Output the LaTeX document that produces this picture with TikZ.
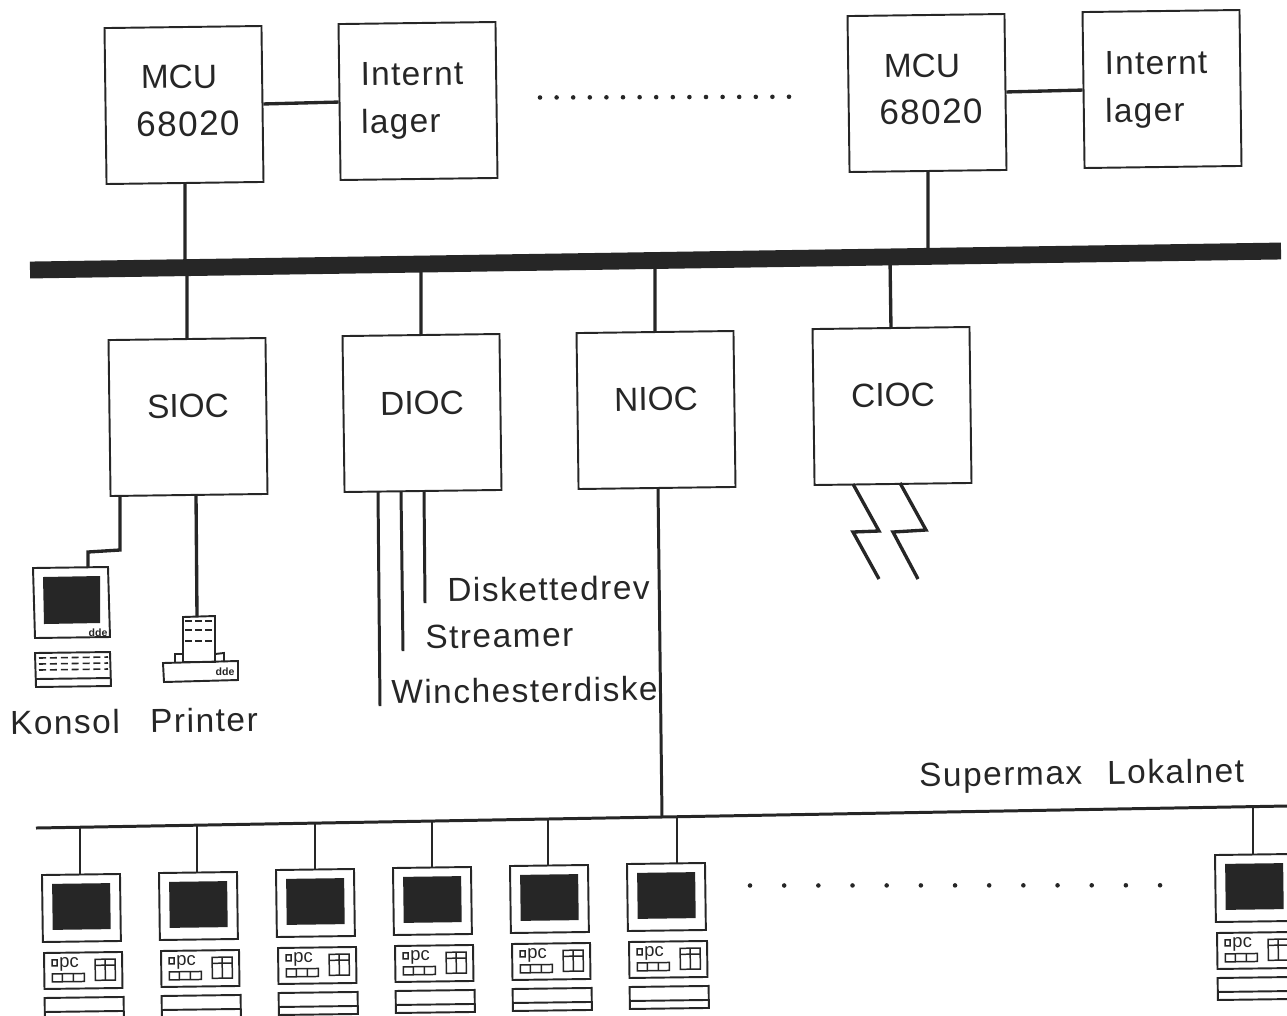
\documentclass[tikz,border=0pt]{standalone}
\usepackage{fontspec}
\setmainfont{Liberation Sans}
\newfontfamily\spacedf[LetterSpace=4]{Liberation Sans}
\newfontfamily\widef[LetterSpace=4.6]{Liberation Sans}
\definecolor{ink}{gray}{0.15}
\tikzset{
  x=0.02cm,y=-0.02cm,
  box/.style={draw=ink,line width=1.1pt,rectangle,rotate=0.75,inner sep=0pt,minimum width=3.14cm,minimum height=3.12cm},
  thin line/.style={draw=ink,line width=1.1pt},
  fine line/.style={draw=ink,line width=.85pt},
  wire/.style={draw=ink,line width=1.9pt,line join=miter},
  busline/.style={draw=ink,line width=9.6pt},
  lanline/.style={draw=ink,line width=1.7pt},
  drop/.style={draw=ink,line width=1pt},
  caps/.style={text=ink,inner sep=0pt,rotate=0.75,font=\fontsize{19}{22}\selectfont},
  lower/.style={text=ink,inner sep=0pt,rotate=0.75,font=\spacedf\fontsize{19}{22}\selectfont},
  digits/.style={text=ink,inner sep=0pt,rotate=0.75,font=\spacedf\fontsize{20}{22}\selectfont},
  label text/.style={text=ink,inner sep=0pt,rotate=0.75,font=\widef\fontsize{19}{22}\selectfont},
  tiny text/.style={text=ink,inner sep=0pt,font=\bfseries\fontsize{6}{7}\selectfont},
  pc text/.style={text=ink,inner sep=0pt,font=\fontsize{10.5}{12}\selectfont},
  dot/.style={fill=ink,circle,inner sep=0pt,minimum size=2.6pt},
  keydash/.style={draw=ink,line width=.9pt,dash pattern=on 4pt off 2.2pt},
  printdash/.style={draw=ink,line width=.9pt,dash pattern=on 3.8pt off 1.9pt},
  terminal/.pic={
    \coordinate (-top) at (39,0);
    \path[thin line] (0,0) rectangle (78,67);
    \path[fill=ink] (10,9) rectangle (68,55);
    \path[thin line] (1,78) rectangle (79,114);
    \path[fine line] (9,85) rectangle (14,91);
    \node[pc text,transform shape] (-pc) at (26,90) {pc};
    \path[fine line] (9,99) rectangle (41,107);
    \path[fine line] (19,99) -- (19,107) (30,99) -- (30,107);
    \path[fine line] (52,85) rectangle (72,106);
    \path[fine line] (62,85) -- (62,106) (52,91) -- (72,91);
    \path[thin line] (1,123) rectangle (80,145);
    \path[thin line] (1,137) -- (80,137);
  }
}
\begin{document}
\begin{tikzpicture}
\useasboundingbox (0,0) rectangle (1287,1015);
\clip (0,0) rectangle (1287,1015);

% top row
\node[box] (mcuA) at (184,105) {};
\node[box] (memA) at (418,101) {};
\node[box] (mcuB) at (927,93) {};
\node[box] (memB) at (1162,89) {};
\node[caps] (mcuAa) at (179,77) {MCU};
\node[digits] (mcuAb) at (188,124) {68020};
\node[lower] (memAa) at (412,74) {Internt};
\node[lower] (memAb) at (401,124) {lager};
\node[caps] (mcuBa) at (922,66) {MCU};
\node[digits] (mcuBb) at (931,112) {68020};
\node[lower] (memBa) at (1156,63) {Internt};
\node[lower] (memBb) at (1145,113) {lager};
\path[wire] (mcuA.east) -- (memA.west);
\path[wire] (mcuB.east) -- (memB.west);
\foreach \i in {0,...,15} \node[dot] (dotA\i) at ({540+16.6*\i},{97.5-0.05*\i}) {};

% system bus
\coordinate (busL) at (30,270);
\coordinate (busR) at (1281,251);
\path[busline] (busL) -- (busR);
\coordinate (bus1) at (185,266);
\coordinate (bus2) at (928,254);
\coordinate (bus3) at (187,266);
\coordinate (bus4) at (421,264);
\coordinate (bus5) at (655,260);
\coordinate (bus6) at (890,258);

% IO controllers
\node[box] (sioc) at (188,417) {};
\node[box] (dioc) at (422,413) {};
\node[box] (nioc) at (656,410) {};
\node[box] (cioc) at (892,406) {};
\node[caps] (siocT) at (188,406) {SIOC};
\node[caps] (diocT) at (422,403) {DIOC};
\node[caps] (niocT) at (656,399) {NIOC};
\node[caps] (ciocT) at (893,395) {CIOC};
\path[wire] (mcuA.south) -- (bus1);
\path[wire] (mcuB.south) -- (bus2);
\path[wire] (sioc.north) -- (bus3);
\path[wire] (dioc.north) -- (bus4);
\path[wire] (nioc.north) -- (bus5);
\path[wire] (cioc.north) -- (bus6);

% console
\coordinate (conTop) at (88,568);
\coordinate (siocA) at (120,495);
\coordinate (siocB) at (196,494);
\path[wire] (siocA) -- (120,550) -- (88,552) -- (conTop);
\path[thin line] (33,568) -- (108,567) -- (110,637) -- (35,638) -- cycle;
\path[fill=ink] (43,577) -- (100,576) -- (100,623) -- (44,624) -- cycle;
\node[tiny text] (conDde) at (98,633) {dde};
\path[thin line] (35,653) -- (110,652) -- (111,686) -- (36,687) -- cycle;
\path[thin line] (36,679) -- (111,678);
\foreach \yy in {658,664,670}
  \path[keydash] (39,\yy) -- (108,\yy-1);

% printer
\coordinate (prnTop) at (197,617);
\path[wire] (siocB) -- (prnTop);
\path[thin line] (183,617) -- (215,616) -- (215,662) -- (183,662) -- cycle;
\path[thin line] (175,662) -- (175,654) -- (183,654);
\path[thin line] (215,654) -- (224,653) -- (224,662);
\path[thin line] (163,663) -- (238,661) -- (238,680) -- (164,682) -- cycle;
\foreach \yy in {621,630,641}
  \path[printdash] (185,\yy) -- (213,\yy);
\node[tiny text] (prnDde) at (225,672) {dde};
\node[label text] (konsol) at (65,722) {Konsol};
\node[label text] (printer) at (204,720) {Printer};

% disk lines
\coordinate (dA) at (378,492);
\coordinate (dB) at (401,491);
\coordinate (dC) at (424,491);
\coordinate (dAe) at (380,706);
\coordinate (dBe) at (403,651);
\coordinate (dCe) at (425,603);
\path[wire,line width=1.7pt] (dA) -- (dAe);
\path[wire,line width=1.7pt] (dB) -- (dBe);
\path[wire,line width=1.7pt] (dC) -- (dCe);
\node[label text,anchor=west] (diskette) at (447,590) {Diskettedrev};
\node[label text,anchor=west] (streamer) at (425,637) {Streamer};
\node[label text,anchor=west] (winch) at (391,692) {Winchesterdiske};

% lightning
\coordinate (lA) at (853,484);
\coordinate (lB) at (900,483);
\path[wire] (lA) -- (879,531) -- (853,532) -- (879,579);
\path[wire] (lB) -- (926,530) -- (893,532) -- (918,579);

% LAN
\coordinate (lanL) at (36,828);
\coordinate (lanR) at (1287,806);
\coordinate (lanN) at (662,817);
\coordinate (nQ) at (658,488);
\path[lanline] (lanL) -- (lanR);
\path[wire,line width=1.7pt] (nQ) -- (lanN);
\node[label text,anchor=west] (lanT) at (919,778) {Supermax\hspace{0.75em}Lokalnet};
\foreach \i/\xx/\yy/\dx in {1/42/875/80,2/159/873/197,3/276/870/315,4/393/868/432,5/510/866/548,6/627/864/677,7/1215/855/1253}{
  \pic[rotate=0.75] (t\i) at (\xx,\yy) {terminal};
  \coordinate (lan\i) at (\dx,{828-(\dx-36)*0.0176});
  \path[drop] (lan\i) -- (\dx,\yy);
}
\foreach \i in {0,...,12} \node[dot] (dotB\i) at ({750+34.17*\i},{885.5-0.02*\i}) {};
\end{tikzpicture}
\end{document}
